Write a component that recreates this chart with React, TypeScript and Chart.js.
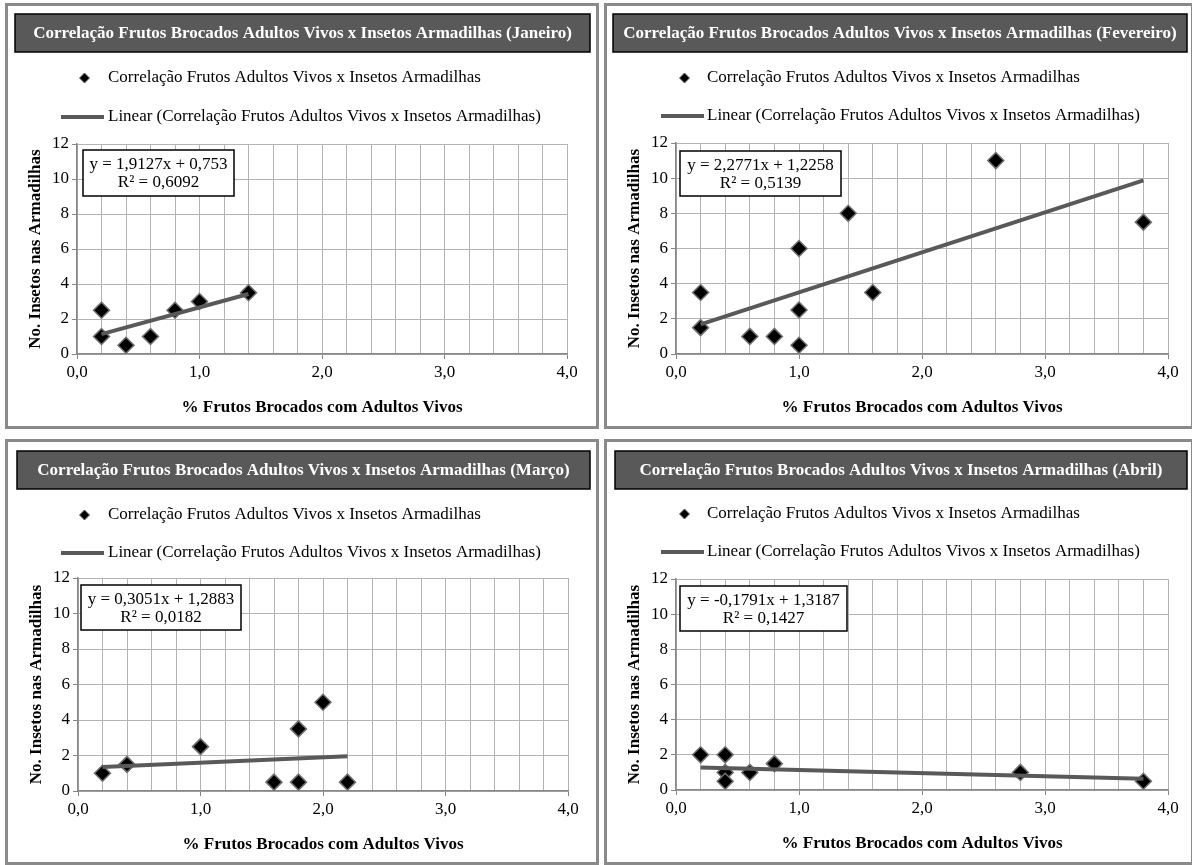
import React, { useEffect, useRef } from 'react';
import { Chart, registerables } from 'chart.js';

Chart.register(...registerables);

const FONT = '"Liberation Serif", "Times New Roman", serif';

// ---------- data ----------
const months = ['Janeiro', 'Fevereiro', 'Março', 'Abril'];
const chartTitlePrefix = 'Correlação Frutos Brocados Adultos Vivos x Insetos Armadilhas';
const legendScatter = 'Correlação Frutos Adultos Vivos x Insetos Armadilhas';
const legendLinear = 'Linear (Correlação Frutos Adultos Vivos x Insetos Armadilhas)';
const xAxisTitle = '% Frutos Brocados com Adultos Vivos';
const yAxisTitle = 'No. Insetos nas Armadilhas';

const janX = [0.2, 0.2, 0.4, 0.6, 0.8, 1.0, 1.4];
const janY = [2.5, 1.0, 0.5, 1.0, 2.5, 3.0, 3.5];
const fevX = [0.2, 0.2, 0.6, 0.8, 1.0, 1.0, 1.0, 1.4, 1.6, 2.6, 3.8];
const fevY = [3.5, 1.5, 1.0, 1.0, 6.0, 2.5, 0.5, 8.0, 3.5, 11.0, 7.5];
const marX = [0.2, 0.4, 1.0, 1.6, 1.8, 1.8, 2.0, 2.2];
const marY = [1.0, 1.5, 2.5, 0.5, 3.5, 0.5, 5.0, 0.5];
const abrX = [0.2, 0.4, 0.4, 0.4, 0.6, 0.8, 2.8, 3.8];
const abrY = [2.0, 2.0, 1.0, 0.5, 1.0, 1.5, 1.0, 0.5];

const seriesX = [janX, fevX, marX, abrX];
const seriesY = [janY, fevY, marY, abrY];

const slopes = [1.9127, 2.2771, 0.3051, -0.1791];
const intercepts = [0.753, 1.2258, 1.2883, 1.3187];
const equations = ['y = 1,9127x + 0,753', 'y = 2,2771x + 1,2258', 'y = 0,3051x + 1,2883', 'y = -0,1791x + 1,3187'];
const r2Labels = ['R² = 0,6092', 'R² = 0,5139', 'R² = 0,0182', 'R² = 0,1427'];

const xMin = 0, xMax = 4, xMinorStep = 0.2;
const yMin = 0, yMax = 12, yStep = 2;

// ---------- layout (page coordinates) ----------
type Layout = {
  border: number[];
  titleBox: number[];
  legend: { y1: number; y2: number; lineX1: number; lineX2: number; textX: number };
  plot: number[];
  eqBox: number[];
};
const layouts: Layout[] = [
  { border: [5, 3, 594, 426], titleBox: [15, 14, 590, 52], legend: { y1: 78, y2: 117, lineX1: 61, lineX2: 104, textX: 108 }, plot: [77, 144, 567, 354], eqBox: [83, 150, 234, 196] },
  { border: [604, 3, 590, 426], titleBox: [613, 14, 1187, 52], legend: { y1: 78, y2: 116, lineX1: 661, lineX2: 704, textX: 707 }, plot: [676, 143, 1168, 354], eqBox: [680, 151, 841, 196] },
  { border: [5, 439, 594, 426], titleBox: [17, 451, 590, 489], legend: { y1: 515, y2: 553, lineX1: 61, lineX2: 104, textX: 108 }, plot: [78, 578, 568, 791], eqBox: [81, 585, 241, 630] },
  { border: [604, 439, 590, 426], titleBox: [615, 451, 1187, 489], legend: { y1: 514, y2: 552, lineX1: 661, lineX2: 704, textX: 707 }, plot: [676, 579, 1168, 790], eqBox: [680, 586, 847, 631] },
];

const isMajor = (v: number) => Math.abs(v - Math.round(v)) < 1e-6;
const fmtX = (v: number) => v.toFixed(1).replace('.', ',');

function drawDiamond(ctx: CanvasRenderingContext2D, x: number, y: number, r: number) {
  ctx.beginPath();
  ctx.moveTo(x, y - r);
  ctx.lineTo(x + r, y);
  ctx.lineTo(x, y + r);
  ctx.lineTo(x - r, y);
  ctx.closePath();
  ctx.fillStyle = '#000';
  ctx.fill();
  ctx.lineWidth = 1;
  ctx.strokeStyle = '#666';
  ctx.stroke();
}

function Panel({ idx }: { idx: number }) {
  const ref = useRef<HTMLCanvasElement>(null);
  const L = layouts[idx];
  const [bl, bt, bw, bh] = L.border;
  const cl = bl + 3, ct = bt + 3, cw = bw - 6, ch = bh - 6;

  useEffect(() => {
    const xs = seriesX[idx];
    const ys = seriesY[idx];
    const pts = xs.map((x, i) => ({ x, y: ys[i] }));
    const x0 = Math.min(...xs), x1 = Math.max(...xs);
    const trend = [
      { x: x0, y: slopes[idx] * x0 + intercepts[idx] },
      { x: x1, y: slopes[idx] * x1 + intercepts[idx] },
    ];
    const [pl, pt, pr, pb] = L.plot;
    const W = 52, H = 64;

    const decor = {
      id: 'decor',
      afterDraw(chart: any) {
        const ctx: CanvasRenderingContext2D = chart.ctx;
        const X = (v: number) => v - cl;
        const Y = (v: number) => v - ct;
        ctx.save();
        // title box
        const [tx0, ty0, tx1, ty1] = L.titleBox;
        ctx.fillStyle = '#595959';
        ctx.fillRect(X(tx0), Y(ty0), tx1 - tx0, ty1 - ty0);
        ctx.lineWidth = 1.5;
        ctx.strokeStyle = '#000';
        ctx.strokeRect(X(tx0), Y(ty0), tx1 - tx0, ty1 - ty0);
        ctx.fillStyle = '#fff';
        ctx.font = `bold 17px ${FONT}`;
        ctx.textAlign = 'center';
        ctx.textBaseline = 'middle';
        ctx.fillText(`${chartTitlePrefix} (${months[idx]})`, X((tx0 + tx1) / 2), Y((ty0 + ty1) / 2 + 1));
        // legend
        const lg = L.legend;
        drawDiamond(ctx, X((lg.lineX1 + lg.lineX2) / 2 + 2), Y(lg.y1), 5);
        ctx.beginPath();
        ctx.moveTo(X(lg.lineX1), Y(lg.y2));
        ctx.lineTo(X(lg.lineX2), Y(lg.y2));
        ctx.lineWidth = 4;
        ctx.strokeStyle = '#595959';
        ctx.stroke();
        ctx.fillStyle = '#000';
        ctx.font = `17px ${FONT}`;
        ctx.textAlign = 'left';
        ctx.fillText(legendScatter, X(lg.textX), Y(lg.y1));
        ctx.fillText(legendLinear, X(lg.textX), Y(lg.y2));
        // equation box
        const [ex0, ey0, ex1, ey1] = L.eqBox;
        ctx.fillStyle = '#fff';
        ctx.fillRect(X(ex0), Y(ey0), ex1 - ex0, ey1 - ey0);
        ctx.lineWidth = 1.5;
        ctx.strokeStyle = '#000';
        ctx.strokeRect(X(ex0), Y(ey0), ex1 - ex0, ey1 - ey0);
        ctx.fillStyle = '#000';
        ctx.textAlign = 'center';
        ctx.fillText(equations[idx], X((ex0 + ex1) / 2), Y(ey0 + 15));
        ctx.fillText(r2Labels[idx], X((ex0 + ex1) / 2), Y(ey0 + 33));
        ctx.restore();
      },
    };

    const chart = new Chart(ref.current as HTMLCanvasElement, {
      type: 'scatter',
      data: {
        datasets: [
          {
            label: legendLinear,
            data: trend,
            showLine: true,
            borderColor: '#595959',
            backgroundColor: '#595959',
            borderWidth: 4,
            pointRadius: 0,
            fill: false,
          } as any,
          {
            label: legendScatter,
            data: pts,
            pointStyle: 'rectRot',
            pointRadius: 8,
            backgroundColor: '#000',
            borderColor: '#707070',
            borderWidth: 1.5,
          },
        ],
      },
      options: {
        responsive: false,
        animation: false,
        devicePixelRatio: 1,
        events: [],
        layout: {
          padding: { left: pl - cl - W, top: pt - ct, right: cl + cw - pr, bottom: ct + ch - pb - H },
        },
        plugins: { legend: { display: false }, tooltip: { enabled: false }, title: { display: false } },
        scales: {
          x: {
            type: 'linear',
            min: xMin,
            max: xMax,
            afterFit: (s: any) => { s.height = H; },
            ticks: {
              stepSize: xMinorStep,
              autoSkip: false,
              maxRotation: 0,
              minRotation: 0,
              padding: 3,
              color: '#000',
              font: { family: FONT, size: 17 },
              callback: (v: any) => (isMajor(Number(v)) ? fmtX(Number(v)) : ''),
            },
            grid: {
              color: '#b3b3b3',
              lineWidth: 1,
              tickLength: 5,
              tickColor: (c: any) => (c.tick && isMajor(c.tick.value) ? '#868686' : 'rgba(0,0,0,0)'),
            },
            border: { color: '#868686', width: 1.5 },
            title: { display: true, text: xAxisTitle, color: '#000', font: { family: FONT, size: 17, weight: 'bold' }, padding: 0 },
          },
          y: {
            type: 'linear',
            min: yMin,
            max: yMax,
            afterFit: (s: any) => { s.width = W; },
            ticks: {
              stepSize: yStep,
              padding: 3,
              color: '#000',
              font: { family: FONT, size: 17 },
            },
            grid: { color: '#b3b3b3', lineWidth: 1, tickLength: 5, tickColor: '#868686' },
            border: { color: '#868686', width: 1.5 },
            title: { display: true, text: yAxisTitle, color: '#000', font: { family: FONT, size: 17, weight: 'bold' }, padding: 0 },
          },
        },
      },
      plugins: [decor],
    });
    return () => chart.destroy();
  }, [idx]);

  return (
    <>
      <canvas
        ref={ref}
        width={cw}
        height={ch}
        style={{ position: 'absolute', left: cl, top: ct, width: cw, height: ch }}
      />
      <div
        style={{
          position: 'absolute',
          left: bl,
          top: bt,
          width: bw,
          height: bh,
          boxSizing: 'border-box',
          border: '3px solid #8a8a8a',
          pointerEvents: 'none',
        }}
      />
    </>
  );
}

export default function App() {
  return (
    <div
      style={{
        position: 'absolute',
        left: 0,
        top: 0,
        width: 1192,
        height: 865,
        overflow: 'hidden',
        background: '#fff',
      }}
    >
      {layouts.map((_, i) => (
        <Panel key={i} idx={i} />
      ))}
    </div>
  );
}
